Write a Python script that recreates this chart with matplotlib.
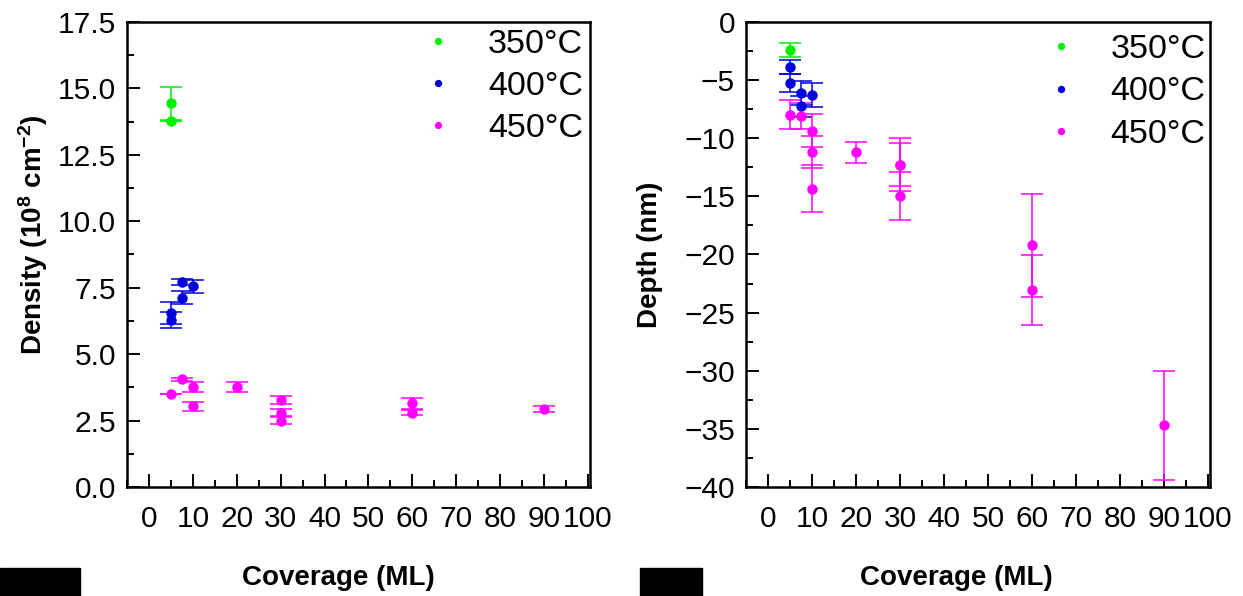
import matplotlib
matplotlib.use('Agg')
import matplotlib.pyplot as plt
from matplotlib.patches import Rectangle
from matplotlib.ticker import MultipleLocator

plt.rcParams['font.family'] = ['Liberation Sans', 'DejaVu Sans']
plt.rcParams['mathtext.fontset'] = 'custom'
plt.rcParams['mathtext.rm'] = 'Liberation Sans'
plt.rcParams['mathtext.bf'] = 'Liberation Sans:bold'
plt.rcParams['mathtext.default'] = 'bf'

# ---- density panel ----
dens_350_x = [5, 5]
dens_350_y = [14.45, 13.77]
dens_350_err = [0.62, 0.0]

dens_400_x = [5, 5, 7.5, 7.5, 10]
dens_400_y = [6.55, 6.3, 7.13, 7.72, 7.55]
dens_400_err = [0.4, 0.3, 0.25, 0.12, 0.25]

dens_450_x = [5, 7.5, 10, 10, 20, 30, 30, 30, 60, 60, 90]
dens_450_y = [3.5, 4.05, 3.75, 3.03, 3.77, 3.27, 2.8, 2.49, 3.15, 2.8, 2.93]
dens_450_err = [0.0, 0.06, 0.19, 0.17, 0.19, 0.15, 0.13, 0.13, 0.2, 0.1, 0.1]

# ---- depth panel ----
depth_350_x = [5]
depth_350_y = [-2.41]
depth_350_err = [0.6]

depth_400_x = [5, 5, 7.5, 7.5, 10]
depth_400_y = [-3.85, -5.23, -6.1, -7.24, -6.3]
depth_400_err = [0.6, 0.75, 1.0, 0.9, 1.05]

depth_450_x = [5, 7.5, 10, 10, 10, 20, 30, 30, 30, 60, 60, 90]
depth_450_y = [-7.96, -8.1, -9.34, -11.2, -14.34, -11.2, -12.27, -12.3, -14.95, -19.22, -23.05, -34.7]
depth_450_err = [1.25, 1.1, 1.4, 1.4, 2.0, 0.9, 2.3, 1.85, 2.05, 4.45, 3.0, 4.7]

labels = ['350°C', '400°C', '450°C']
colors = ['#00f000', '#0000dd', '#ff00ff']

fig = plt.figure(figsize=(12.43, 5.96), dpi=100)
ax1 = fig.add_axes([0.1022, 0.1829, 0.3725, 0.7802])
ax2 = fig.add_axes([0.6002, 0.1829, 0.3733, 0.7802])


def draw(ax, series, anchor):
    handles = []
    for (x, y, e), c in zip(series, colors):
        cont = ax.errorbar(x, y, yerr=e, fmt='o', color=c, ms=6.5, elinewidth=1.1,
                           capsize=8, capthick=1.1)
        handles.append(cont[0])
    ax.legend(handles, labels, loc='upper right', frameon=False, fontsize=24.5,
              markerscale=0.65, numpoints=1, handletextpad=0.7, handlelength=1.5,
              labelspacing=0.33, borderaxespad=0.0, bbox_to_anchor=anchor)
    ax.set_xlim(-5, 100.5)
    ax.xaxis.set_major_locator(MultipleLocator(10))
    ax.xaxis.set_minor_locator(MultipleLocator(5))
    ax.tick_params(which='both', direction='in', top=False, right=False, width=1.4,
                   labelsize=21.5)
    ax.tick_params(which='major', length=9.5, pad=8)
    ax.tick_params(axis='x', which='major', pad=13)
    ax.tick_params(which='minor', length=5)
    for sp in ax.spines.values():
        sp.set_linewidth(1.8)
    ax.set_xlabel('Coverage (ML)', fontsize=20, fontweight='bold')


draw(ax1, [(dens_350_x, dens_350_y, dens_350_err),
           (dens_400_x, dens_400_y, dens_400_err),
           (dens_450_x, dens_450_y, dens_450_err)], (1.014, 1.015))
ax1.set_ylim(0, 17.5)
ax1.yaxis.set_major_locator(MultipleLocator(2.5))
ax1.yaxis.set_minor_locator(MultipleLocator(1.25))
ax1.yaxis.set_major_formatter(matplotlib.ticker.FormatStrFormatter('%.1f'))
ax1.set_ylabel(r'Density (10$^{8}$ cm$^{-2}$)', fontsize=20, fontweight='bold')
ax1.yaxis.label.set_va('center')
ax1.yaxis.set_label_coords(-0.203, 0.542)
ax1.xaxis.set_label_coords(0.456, -0.168)

draw(ax2, [(depth_350_x, depth_350_y, depth_350_err),
           (depth_400_x, depth_400_y, depth_400_err),
           (depth_450_x, depth_450_y, depth_450_err)], (1.02, 1.003))
ax2.set_ylim(-40, 0)
ax2.yaxis.set_major_locator(MultipleLocator(5))
ax2.yaxis.set_minor_locator(MultipleLocator(2.5))
ax2.set_ylabel('Depth (nm)', fontsize=20, fontweight='bold')
ax2.yaxis.label.set_va('center')
ax2.yaxis.set_label_coords(-0.207, 0.499)
ax2.xaxis.set_label_coords(0.4526, -0.168)

# black boxes at the bottom
W, H = 1243, 596
fig.patches.append(Rectangle((0 / W, 0), 80 / W, 28 / H, transform=fig.transFigure,
                             color='black', zorder=10))
fig.patches.append(Rectangle((640 / W, 0), 62 / W, 28 / H, transform=fig.transFigure,
                             color='black', zorder=10))

fig.savefig('out.png', dpi=100)
